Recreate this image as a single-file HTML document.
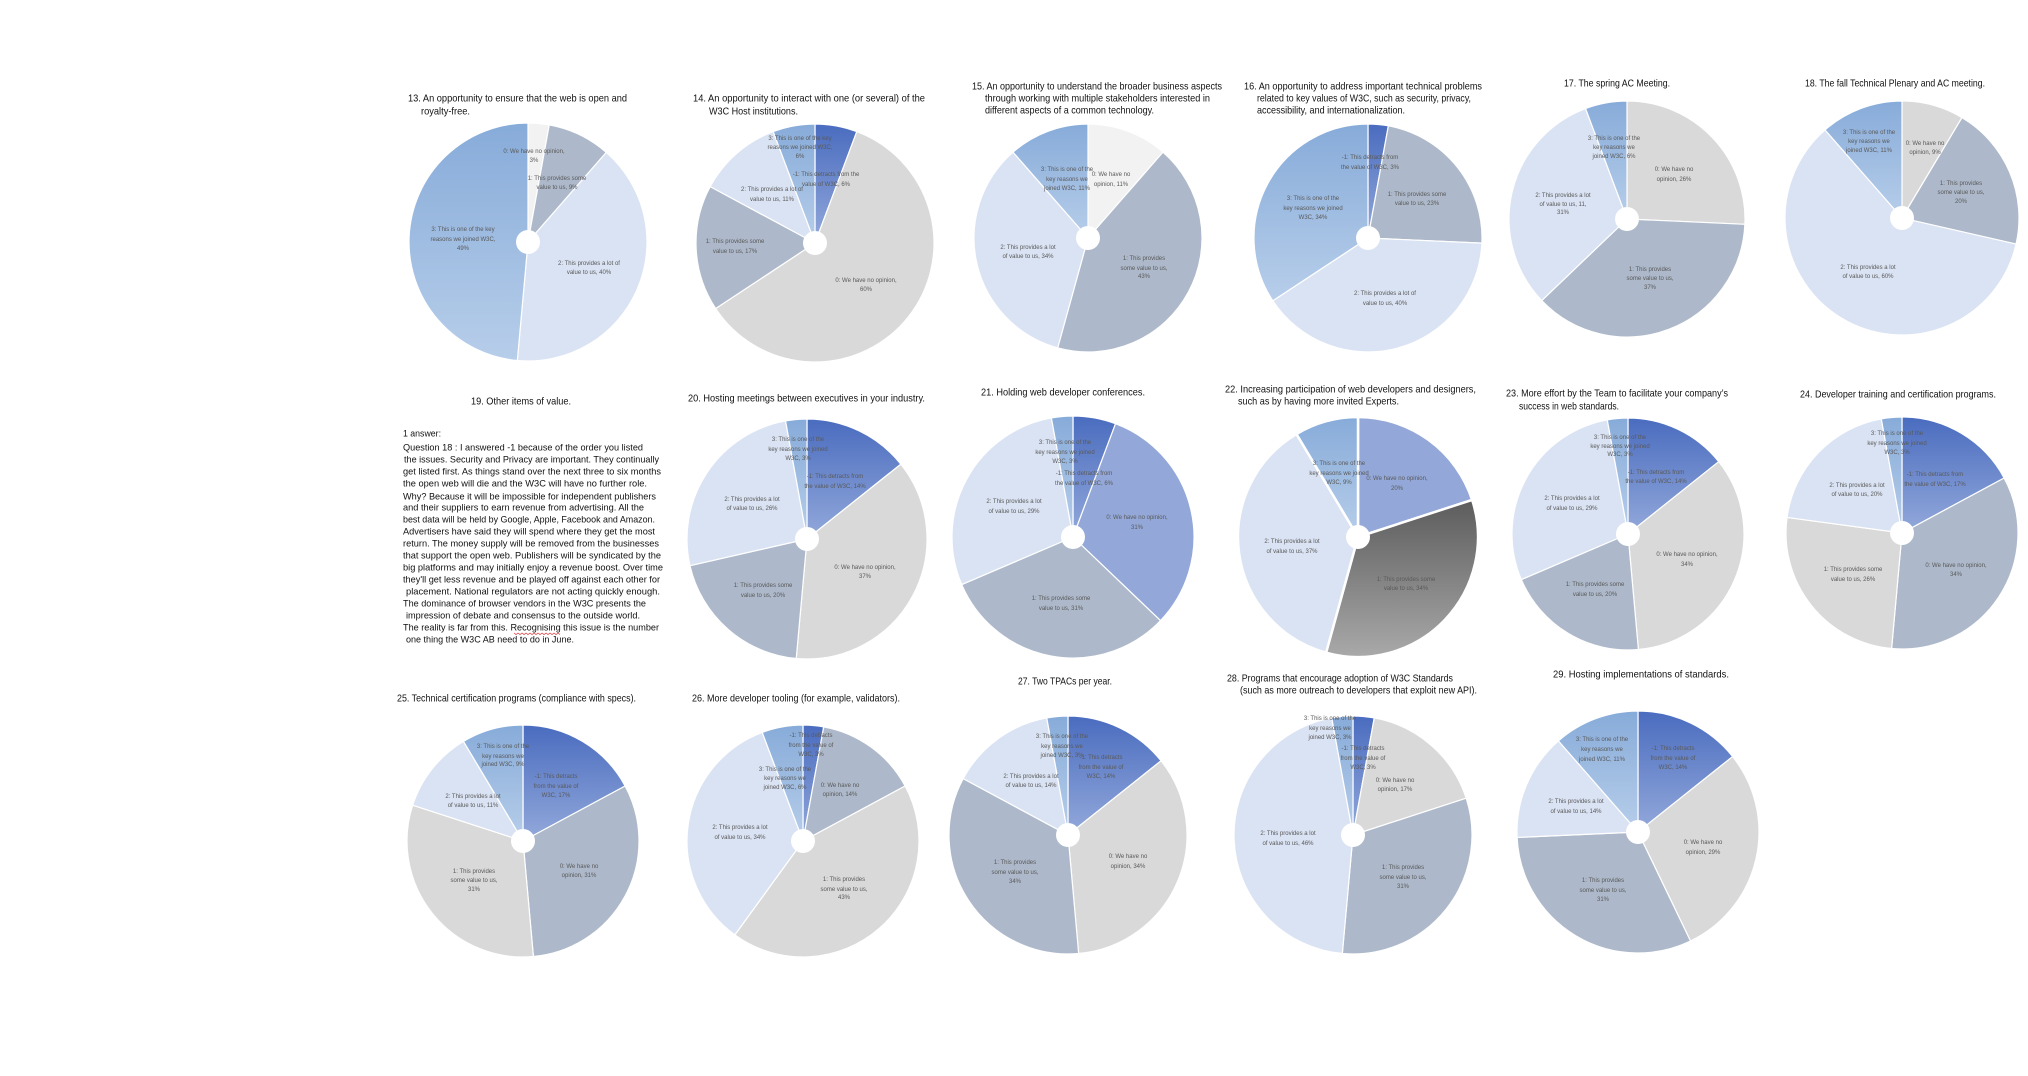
<!DOCTYPE html>
<html><head><meta charset="utf-8"><style>
html,body{margin:0;padding:0;background:#fff;}
svg{display:block;}
</style></head><body>
<svg width="2028" height="1076" viewBox="0 0 2028 1076" xmlns="http://www.w3.org/2000/svg">
<defs>
<linearGradient id="gN" x1="0" y1="0" x2="0" y2="1"><stop offset="0" stop-color="#4a6cbf"/><stop offset="1" stop-color="#93a9db"/></linearGradient>
<linearGradient id="gK" x1="0" y1="0" x2="0" y2="1"><stop offset="0" stop-color="#87abd9"/><stop offset="1" stop-color="#b7ceea"/></linearGradient>
<linearGradient id="gG" x1="0" y1="0" x2="0" y2="1"><stop offset="0" stop-color="#5c5c5c"/><stop offset="1" stop-color="#a9a9a9"/></linearGradient>
</defs>
<rect width="2028" height="1076" fill="#fff"/>

<g stroke="#fff" stroke-width="1.2" stroke-linejoin="round">
<!-- 13 -->
<path d="M528,242 L528,123 A119,119 0 0,1 549.25,124.91 Z" fill="#f2f2f2"/>
<path d="M528,242 L549.25,124.91 A119,119 0 0,1 606.29,152.38 Z" fill="#adb9ca"/>
<path d="M528,242 L606.29,152.38 A119,119 0 0,1 517.33,360.52 Z" fill="#dae3f3"/>
<path d="M528,242 L517.33,360.52 A119,119 0 0,1 528,123 Z" fill="url(#gK)"/>
<!-- 14 -->
<path d="M815,243 L815,124 A119,119 0 0,1 856.81,131.59 Z" fill="url(#gN)"/>
<path d="M815,243 L856.81,131.59 A119,119 0 1,1 715.69,308.56 Z" fill="#d9d9d9"/>
<path d="M815,243 L715.69,308.56 A119,119 0 0,1 710.21,186.61 Z" fill="#adb9ca"/>
<path d="M815,243 L710.21,186.61 A119,119 0 0,1 773.19,131.59 Z" fill="#dae3f3"/>
<path d="M815,243 L773.19,131.59 A119,119 0 0,1 815,124 Z" fill="url(#gK)"/>
<!-- 15 -->
<path d="M1088,238 L1088,124 A114,114 0 0,1 1163.01,152.15 Z" fill="#f2f2f2"/>
<path d="M1088,238 L1163.01,152.15 A114,114 0 0,1 1057.67,347.89 Z" fill="#adb9ca"/>
<path d="M1088,238 L1057.67,347.89 A114,114 0 0,1 1012.99,152.15 Z" fill="#dae3f3"/>
<path d="M1088,238 L1012.99,152.15 A114,114 0 0,1 1088,124 Z" fill="url(#gK)"/>
<!-- 16 -->
<path d="M1368,238 L1368,124 A114,114 0 0,1 1388.35,125.83 Z" fill="url(#gN)"/>
<path d="M1368,238 L1388.35,125.83 A114,114 0 0,1 1481.88,243.11 Z" fill="#adb9ca"/>
<path d="M1368,238 L1481.88,243.11 A114,114 0 0,1 1272.86,300.80 Z" fill="#dae3f3"/>
<path d="M1368,238 L1272.86,300.80 A114,114 0 0,1 1368,124 Z" fill="url(#gK)"/>
<!-- 17 -->
<path d="M1627,219 L1627,101 A118,118 0 0,1 1744.88,224.29 Z" fill="#d9d9d9"/>
<path d="M1627,219 L1744.88,224.29 A118,118 0 0,1 1541.71,300.55 Z" fill="#adb9ca"/>
<path d="M1627,219 L1541.71,300.55 A118,118 0 0,1 1585.54,108.52 Z" fill="#dae3f3"/>
<path d="M1627,219 L1585.54,108.52 A118,118 0 0,1 1627,101 Z" fill="url(#gK)"/>
<!-- 18 -->
<path d="M1902,218 L1902,101 A117,117 0 0,1 1962.01,117.56 Z" fill="#d9d9d9"/>
<path d="M1902,218 L1962.01,117.56 A117,117 0 0,1 2016.07,244.03 Z" fill="#adb9ca"/>
<path d="M1902,218 L2016.07,244.03 A117,117 0 1,1 1825.02,129.89 Z" fill="#dae3f3"/>
<path d="M1902,218 L1825.02,129.89 A117,117 0 0,1 1902,101 Z" fill="url(#gK)"/>
<!-- 20 -->
<path d="M807,539 L807,419 A120,120 0 0,1 900.82,464.18 Z" fill="url(#gN)"/>
<path d="M807,539 L900.82,464.18 A120,120 0 0,1 796.24,658.52 Z" fill="#d9d9d9"/>
<path d="M807,539 L796.24,658.52 A120,120 0 0,1 690.01,565.70 Z" fill="#adb9ca"/>
<path d="M807,539 L690.01,565.70 A120,120 0 0,1 785.57,420.93 Z" fill="#dae3f3"/>
<path d="M807,539 L785.57,420.93 A120,120 0 0,1 807,419 Z" fill="url(#gK)"/>
<!-- 21 -->
<path d="M1073,537 L1073,416 A121,121 0 0,1 1115.52,423.71 Z" fill="url(#gN)"/>
<path d="M1073,537 L1115.52,423.71 A121,121 0 0,1 1160.46,620.62 Z" fill="#93a8d9"/>
<path d="M1073,537 L1160.46,620.62 A121,121 0 0,1 961.74,584.56 Z" fill="#adb9ca"/>
<path d="M1073,537 L961.74,584.56 A121,121 0 0,1 1051.40,417.94 Z" fill="#dae3f3"/>
<path d="M1073,537 L1051.40,417.94 A121,121 0 0,1 1073,416 Z" fill="url(#gK)"/>
<!-- 23 -->
<path d="M1628,534 L1628,418 A116,116 0 0,1 1718.69,461.68 Z" fill="url(#gN)"/>
<path d="M1628,534 L1718.69,461.68 A116,116 0 0,1 1638.40,649.53 Z" fill="#d9d9d9"/>
<path d="M1628,534 L1638.40,649.53 A116,116 0 0,1 1521.34,579.59 Z" fill="#adb9ca"/>
<path d="M1628,534 L1521.34,579.59 A116,116 0 0,1 1607.29,419.86 Z" fill="#dae3f3"/>
<path d="M1628,534 L1607.29,419.86 A116,116 0 0,1 1628,418 Z" fill="url(#gK)"/>
<!-- 24 -->
<path d="M1902,533 L1902,417 A116,116 0 0,1 2004.15,478.03 Z" fill="url(#gN)"/>
<path d="M1902,533 L2004.15,478.03 A116,116 0 0,1 1891.60,648.53 Z" fill="#adb9ca"/>
<path d="M1902,533 L1891.60,648.53 A116,116 0 0,1 1787.05,517.43 Z" fill="#d9d9d9"/>
<path d="M1902,533 L1787.05,517.43 A116,116 0 0,1 1881.29,418.86 Z" fill="#dae3f3"/>
<path d="M1902,533 L1881.29,418.86 A116,116 0 0,1 1902,417 Z" fill="url(#gK)"/>
<!-- 25 -->
<path d="M523,841 L523,725 A116,116 0 0,1 625.15,786.03 Z" fill="url(#gN)"/>
<path d="M523,841 L625.15,786.03 A116,116 0 0,1 533.40,956.53 Z" fill="#adb9ca"/>
<path d="M523,841 L533.40,956.53 A116,116 0 0,1 412.68,805.15 Z" fill="#d9d9d9"/>
<path d="M523,841 L412.68,805.15 A116,116 0 0,1 463.50,741.42 Z" fill="#dae3f3"/>
<path d="M523,841 L463.50,741.42 A116,116 0 0,1 523,725 Z" fill="url(#gK)"/>
<!-- 26 -->
<path d="M803,841 L803,725 A116,116 0 0,1 823.71,726.86 Z" fill="url(#gN)"/>
<path d="M803,841 L823.71,726.86 A116,116 0 0,1 905.15,786.03 Z" fill="#adb9ca"/>
<path d="M803,841 L905.15,786.03 A116,116 0 0,1 734.82,934.85 Z" fill="#d9d9d9"/>
<path d="M803,841 L734.82,934.85 A116,116 0 0,1 762.24,732.40 Z" fill="#dae3f3"/>
<path d="M803,841 L762.24,732.40 A116,116 0 0,1 803,725 Z" fill="url(#gK)"/>
<!-- 27 -->
<path d="M1068,835 L1068,716 A119,119 0 0,1 1161.04,760.80 Z" fill="url(#gN)"/>
<path d="M1068,835 L1161.04,760.80 A119,119 0 0,1 1078.67,953.52 Z" fill="#d9d9d9"/>
<path d="M1068,835 L1078.67,953.52 A119,119 0 0,1 963.21,778.61 Z" fill="#adb9ca"/>
<path d="M1068,835 L963.21,778.61 A119,119 0 0,1 1046.75,717.91 Z" fill="#dae3f3"/>
<path d="M1068,835 L1046.75,717.91 A119,119 0 0,1 1068,716 Z" fill="url(#gK)"/>
<!-- 28 -->
<path d="M1353,835 L1353,716 A119,119 0 0,1 1374.25,717.91 Z" fill="url(#gN)"/>
<path d="M1353,835 L1374.25,717.91 A119,119 0 0,1 1466.18,798.23 Z" fill="#d9d9d9"/>
<path d="M1353,835 L1466.18,798.23 A119,119 0 0,1 1342.33,953.52 Z" fill="#adb9ca"/>
<path d="M1353,835 L1342.33,953.52 A119,119 0 0,1 1331.75,717.91 Z" fill="#dae3f3"/>
<path d="M1353,835 L1331.75,717.91 A119,119 0 0,1 1353,716 Z" fill="url(#gK)"/>
<!-- 29 -->
<path d="M1638,832 L1638,711 A121,121 0 0,1 1732.60,756.56 Z" fill="url(#gN)"/>
<path d="M1638,832 L1732.60,756.56 A121,121 0 0,1 1690.50,941.02 Z" fill="#d9d9d9"/>
<path d="M1638,832 L1690.50,941.02 A121,121 0 0,1 1517.12,837.43 Z" fill="#adb9ca"/>
<path d="M1638,832 L1517.12,837.43 A121,121 0 0,1 1558.39,740.88 Z" fill="#dae3f3"/>
<path d="M1638,832 L1558.39,740.88 A121,121 0 0,1 1638,711 Z" fill="url(#gK)"/>
</g>
<!-- 22 thicker borders -->
<g stroke="#fff" stroke-width="2.5" stroke-linejoin="round">
<path d="M1358,537 L1358,417 A120,120 0 0,1 1472.13,499.92 Z" fill="#93a8d9"/>
<path d="M1358,537 L1472.13,499.92 A120,120 0 0,1 1326.08,652.68 Z" fill="url(#gG)"/>
<path d="M1358,537 L1326.08,652.68 A120,120 0 0,1 1296.45,433.99 Z" fill="#dae3f3"/>
<path d="M1358,537 L1296.45,433.99 A120,120 0 0,1 1358,417 Z" fill="url(#gK)"/>
</g>

<!-- holes -->
<g fill="#fff">
<circle cx="528" cy="242" r="12"/><circle cx="815" cy="243" r="12"/><circle cx="1088" cy="238" r="12"/>
<circle cx="1368" cy="238" r="12"/><circle cx="1627" cy="219" r="12"/><circle cx="1902" cy="218" r="12"/>
<circle cx="807" cy="539" r="12"/><circle cx="1073" cy="537" r="12"/><circle cx="1358" cy="537" r="12"/>
<circle cx="1628" cy="534" r="12"/><circle cx="1902" cy="533" r="12"/>
<circle cx="523" cy="841" r="12"/><circle cx="803" cy="841" r="12"/><circle cx="1068" cy="835" r="12"/>
<circle cx="1353" cy="835" r="12"/><circle cx="1638" cy="832" r="12"/>
</g>

<!-- slice labels -->
<g font-family="'Liberation Sans', sans-serif" font-size="6" fill="#595959" text-anchor="middle">
<!-- 13 -->
<text x="534" y="153">0: We have no opinion,</text><text x="534" y="162">3%</text>
<text x="557" y="180">1: This provides some</text><text x="557" y="189">value to us, 9%</text>
<text x="589" y="265">2: This provides a lot of</text><text x="589" y="274">value to us, 40%</text>
<text x="463" y="231">3: This is one of the key</text><text x="463" y="241">reasons we joined W3C,</text><text x="463" y="250">49%</text>
<!-- 14 -->
<text x="800" y="140">3: This is one of the key</text><text x="800" y="149">reasons we joined W3C,</text><text x="800" y="158">6%</text>
<text x="826" y="176">-1: This detracts from the</text><text x="826" y="186">value of W3C, 6%</text>
<text x="772" y="191">2: This provides a lot of</text><text x="772" y="201">value to us, 11%</text>
<text x="735" y="243">1: This provides some</text><text x="735" y="253">value to us, 17%</text>
<text x="866" y="282">0: We have no opinion,</text><text x="866" y="291">60%</text>
<!-- 15 -->
<text x="1067" y="171">3: This is one of the</text><text x="1067" y="181">key reasons we</text><text x="1067" y="190">joined W3C, 11%</text>
<text x="1111" y="176">0: We have no</text><text x="1111" y="186">opinion, 11%</text>
<text x="1028" y="249">2: This provides a lot</text><text x="1028" y="258">of value to us, 34%</text>
<text x="1144" y="260">1: This provides</text><text x="1144" y="270">some value to us,</text><text x="1144" y="278">43%</text>
<!-- 16 -->
<text x="1370" y="159">-1: This detracts from</text><text x="1370" y="169">the value of W3C, 3%</text>
<text x="1417" y="196">1: This provides some</text><text x="1417" y="205">value to us, 23%</text>
<text x="1313" y="200">3: This is one of the</text><text x="1313" y="210">key reasons we joined</text><text x="1313" y="219">W3C, 34%</text>
<text x="1385" y="295">2: This provides a lot of</text><text x="1385" y="305">value to us, 40%</text>
<!-- 17 -->
<text x="1614" y="140">3: This is one of the</text><text x="1614" y="149">key reasons we</text><text x="1614" y="158">joined W3C, 6%</text>
<text x="1674" y="171">0: We have no</text><text x="1674" y="181">opinion, 26%</text>
<text x="1563" y="197">2: This provides a lot</text><text x="1563" y="206">of value to us, 11,</text><text x="1563" y="214">31%</text>
<text x="1650" y="271">1: This provides</text><text x="1650" y="280">some value to us,</text><text x="1650" y="289">37%</text>
<!-- 18 -->
<text x="1869" y="134">3: This is one of the</text><text x="1869" y="143">key reasons we</text><text x="1869" y="152">joined W3C, 11%</text>
<text x="1925" y="145">0: We have no</text><text x="1925" y="154">opinion, 9%</text>
<text x="1961" y="185">1: This provides</text><text x="1961" y="194">some value to us,</text><text x="1961" y="203">20%</text>
<text x="1868" y="269">2: This provides a lot</text><text x="1868" y="278">of value to us, 60%</text>
<!-- 20 -->
<text x="798" y="441">3: This is one of the</text><text x="798" y="451">key reasons we joined</text><text x="798" y="460">W3C, 3%</text>
<text x="835" y="478">-1: This detracts from</text><text x="835" y="488">the value of W3C, 14%</text>
<text x="752" y="501">2: This provides a lot</text><text x="752" y="510">of value to us, 26%</text>
<text x="865" y="569">0: We have no opinion,</text><text x="865" y="578">37%</text>
<text x="763" y="587">1: This provides some</text><text x="763" y="597">value to us, 20%</text>
<!-- 21 -->
<text x="1065" y="444">3: This is one of the</text><text x="1065" y="454">key reasons we joined</text><text x="1065" y="463">W3C, 3%</text>
<text x="1084" y="475">-1: This detracts from</text><text x="1084" y="485">the value of W3C, 6%</text>
<text x="1014" y="503">2: This provides a lot</text><text x="1014" y="513">of value to us, 29%</text>
<text x="1137" y="519">0: We have no opinion,</text><text x="1137" y="529">31%</text>
<text x="1061" y="600">1: This provides some</text><text x="1061" y="610">value to us, 31%</text>
<!-- 22 -->
<text x="1339" y="465">3: This is one of the</text><text x="1339" y="475">key reasons we joined</text><text x="1339" y="484">W3C, 9%</text>
<text x="1397" y="480">0: We have no opinion,</text><text x="1397" y="490">20%</text>
<text x="1292" y="543">2: This provides a lot</text><text x="1292" y="553">of value to us, 37%</text>
<text x="1406" y="581">1: This provides some</text><text x="1406" y="590">value to us, 34%</text>
<!-- 23 -->
<text x="1620" y="439">3: This is one of the</text><text x="1620" y="448">key reasons we joined</text><text x="1620" y="456">W3C, 3%</text>
<text x="1656" y="474">-1: This detracts from</text><text x="1656" y="483">the value of W3C, 14%</text>
<text x="1572" y="500">2: This provides a lot</text><text x="1572" y="510">of value to us, 29%</text>
<text x="1687" y="556">0: We have no opinion,</text><text x="1687" y="566">34%</text>
<text x="1595" y="586">1: This provides some</text><text x="1595" y="596">value to us, 20%</text>
<!-- 24 -->
<text x="1897" y="435">3: This is one of the</text><text x="1897" y="445">key reasons we joined</text><text x="1897" y="454">W3C, 3%</text>
<text x="1935" y="476">-1: This detracts from</text><text x="1935" y="486">the value of W3C, 17%</text>
<text x="1857" y="487">2: This provides a lot</text><text x="1857" y="496">of value to us, 20%</text>
<text x="1956" y="567">0: We have no opinion,</text><text x="1956" y="576">34%</text>
<text x="1853" y="571">1: This provides some</text><text x="1853" y="581">value to us, 26%</text>
<!-- 25 -->
<text x="503" y="748">3: This is one of the</text><text x="503" y="758">key reasons we</text><text x="503" y="766">joined W3C, 9%</text>
<text x="556" y="778">-1: This detracts</text><text x="556" y="788">from the value of</text><text x="556" y="797">W3C, 17%</text>
<text x="473" y="798">2: This provides a lot</text><text x="473" y="807">of value to us, 11%</text>
<text x="579" y="868">0: We have no</text><text x="579" y="877">opinion, 31%</text>
<text x="474" y="873">1: This provides</text><text x="474" y="882">some value to us,</text><text x="474" y="891">31%</text>
<!-- 26 -->
<text x="811" y="737">-1: This detracts</text><text x="811" y="747">from the value of</text><text x="811" y="756">W3C, 3%</text>
<text x="785" y="771">3: This is one of the</text><text x="785" y="780">key reasons we</text><text x="785" y="789">joined W3C, 6%</text>
<text x="840" y="787">0: We have no</text><text x="840" y="796">opinion, 14%</text>
<text x="740" y="829">2: This provides a lot</text><text x="740" y="839">of value to us, 34%</text>
<text x="844" y="881">1: This provides</text><text x="844" y="891">some value to us,</text><text x="844" y="899">43%</text>
<!-- 27 -->
<text x="1062" y="738">3: This is one of the</text><text x="1062" y="748">key reasons we</text><text x="1062" y="757">joined W3C, 3%</text>
<text x="1101" y="759">-1: This detracts</text><text x="1101" y="769">from the value of</text><text x="1101" y="778">W3C, 14%</text>
<text x="1031" y="778">2: This provides a lot</text><text x="1031" y="787">of value to us, 14%</text>
<text x="1128" y="858">0: We have no</text><text x="1128" y="868">opinion, 34%</text>
<text x="1015" y="864">1: This provides</text><text x="1015" y="874">some value to us,</text><text x="1015" y="883">34%</text>
<!-- 28 -->
<text x="1330" y="720">3: This is one of the</text><text x="1330" y="730">key reasons we</text><text x="1330" y="739">joined W3C, 3%</text>
<text x="1363" y="750">-1: This detracts</text><text x="1363" y="760">from the value of</text><text x="1363" y="769">W3C, 3%</text>
<text x="1395" y="782">0: We have no</text><text x="1395" y="791">opinion, 17%</text>
<text x="1288" y="835">2: This provides a lot</text><text x="1288" y="845">of value to us, 46%</text>
<text x="1403" y="869">1: This provides</text><text x="1403" y="879">some value to us,</text><text x="1403" y="888">31%</text>
<!-- 29 -->
<text x="1602" y="741">3: This is one of the</text><text x="1602" y="751">key reasons we</text><text x="1602" y="761">joined W3C, 11%</text>
<text x="1673" y="750">-1: This detracts</text><text x="1673" y="760">from the value of</text><text x="1673" y="769">W3C, 14%</text>
<text x="1576" y="803">2: This provides a lot</text><text x="1576" y="813">of value to us, 14%</text>
<text x="1703" y="844">0: We have no</text><text x="1703" y="854">opinion, 29%</text>
<text x="1603" y="882">1: This provides</text><text x="1603" y="892">some value to us,</text><text x="1603" y="901">31%</text>
</g>

<!-- titles -->
<g font-family="'Liberation Sans', sans-serif" font-size="10.5" fill="#111" lengthAdjust="spacingAndGlyphs">
<text x="408" y="101.7" textLength="219" lengthAdjust="spacingAndGlyphs">13. An opportunity to ensure that the web is open and</text>
<text x="421" y="114.5" textLength="49" lengthAdjust="spacingAndGlyphs">royalty-free.</text>
<text x="693" y="101.7" textLength="232" lengthAdjust="spacingAndGlyphs">14. An opportunity to interact with one (or several) of the</text>
<text x="709" y="114.5" textLength="89" lengthAdjust="spacingAndGlyphs">W3C Host institutions.</text>
<text x="972" y="89.7" textLength="250" lengthAdjust="spacingAndGlyphs">15. An opportunity to understand the broader business aspects</text>
<text x="985" y="101.7" textLength="225" lengthAdjust="spacingAndGlyphs">through working with multiple stakeholders interested in</text>
<text x="985" y="113.7" textLength="169" lengthAdjust="spacingAndGlyphs">different aspects of a common technology.</text>
<text x="1244" y="89.7" textLength="238" lengthAdjust="spacingAndGlyphs">16. An opportunity to address important technical problems</text>
<text x="1257" y="101.7" textLength="214" lengthAdjust="spacingAndGlyphs">related to key values of W3C, such as security, privacy,</text>
<text x="1257" y="113.7" textLength="148" lengthAdjust="spacingAndGlyphs">accessibility, and internationalization.</text>
<text x="1564" y="86.7" textLength="106" lengthAdjust="spacingAndGlyphs">17. The spring AC Meeting.</text>
<text x="1805" y="86.7" textLength="180" lengthAdjust="spacingAndGlyphs">18. The fall Technical Plenary and AC meeting.</text>
<text x="471" y="404.7" textLength="100" lengthAdjust="spacingAndGlyphs">19. Other items of value.</text>
<text x="688" y="401.7" textLength="237" lengthAdjust="spacingAndGlyphs">20. Hosting meetings between executives in your industry.</text>
<text x="981" y="395.7" textLength="164" lengthAdjust="spacingAndGlyphs">21. Holding web developer conferences.</text>
<text x="1225" y="392.7" textLength="251" lengthAdjust="spacingAndGlyphs">22. Increasing participation of web developers and designers,</text>
<text x="1238" y="404.7" textLength="161" lengthAdjust="spacingAndGlyphs">such as by having more invited Experts.</text>
<text x="1506" y="396.7" textLength="222" lengthAdjust="spacingAndGlyphs">23. More effort by the Team to facilitate your company’s</text>
<text x="1519" y="409.7" textLength="100" lengthAdjust="spacingAndGlyphs">success in web standards.</text>
<text x="1800" y="397.7" textLength="196" lengthAdjust="spacingAndGlyphs">24. Developer training and certification programs.</text>
<text x="397" y="701.7" textLength="239" lengthAdjust="spacingAndGlyphs">25. Technical certification programs (compliance with specs).</text>
<text x="692" y="701.7" textLength="208" lengthAdjust="spacingAndGlyphs">26. More developer tooling (for example, validators).</text>
<text x="1018" y="684.7" textLength="94" lengthAdjust="spacingAndGlyphs">27. Two TPACs per year.</text>
<text x="1227" y="681.7" textLength="226" lengthAdjust="spacingAndGlyphs">28. Programs that encourage adoption of W3C Standards</text>
<text x="1240" y="693.7" textLength="237" lengthAdjust="spacingAndGlyphs">(such as more outreach to developers that exploit new API).</text>
<text x="1553" y="677.7" textLength="176" lengthAdjust="spacingAndGlyphs">29. Hosting implementations of standards.</text>
</g>

<!-- answer text for 19 -->
<g font-family="'Liberation Sans', sans-serif" font-size="9.5" fill="#111">
<text x="403" y="436.3" textLength="38" lengthAdjust="spacingAndGlyphs">1 answer:</text>
<text x="403" y="450.3" textLength="240" lengthAdjust="spacingAndGlyphs">Question 18 : I answered -1 because of the order you listed</text>
<text x="404" y="462.3" textLength="255" lengthAdjust="spacingAndGlyphs">the issues. Security and Privacy are important. They continually</text>
<text x="403" y="474.3" textLength="258" lengthAdjust="spacingAndGlyphs">get listed first. As things stand over the next three to six months</text>
<text x="403" y="486.3" textLength="244" lengthAdjust="spacingAndGlyphs">the open web will die and the W3C will have no further role.</text>
<text x="403" y="499.3" textLength="253" lengthAdjust="spacingAndGlyphs">Why? Because it will be impossible for independent publishers</text>
<text x="403" y="510.3" textLength="241" lengthAdjust="spacingAndGlyphs">and their suppliers to earn revenue from advertising. All the</text>
<text x="403" y="522.3" textLength="252" lengthAdjust="spacingAndGlyphs">best data will be held by Google, Apple, Facebook and Amazon.</text>
<text x="403" y="534.3" textLength="252" lengthAdjust="spacingAndGlyphs">Advertisers have said they will spend where they get the most</text>
<text x="403" y="546.3" textLength="256" lengthAdjust="spacingAndGlyphs">return. The money supply will be removed from the businesses</text>
<text x="403" y="558.3" textLength="258" lengthAdjust="spacingAndGlyphs">that support the open web. Publishers will be syndicated by the</text>
<text x="403" y="570.3" textLength="260" lengthAdjust="spacingAndGlyphs">big platforms and may initially enjoy a revenue boost. Over time</text>
<text x="403" y="582.3" textLength="257" lengthAdjust="spacingAndGlyphs">they'll get less revenue and be played off against each other for</text>
<text x="406" y="594.3" textLength="254" lengthAdjust="spacingAndGlyphs">placement. National regulators are not acting quickly enough.</text>
<text x="403" y="606.3" textLength="243" lengthAdjust="spacingAndGlyphs">The dominance of browser vendors in the W3C presents the</text>
<text x="406" y="618.3" textLength="234" lengthAdjust="spacingAndGlyphs">impression of debate and consensus to the outside world.</text>
<text x="403" y="630.3" textLength="256" lengthAdjust="spacingAndGlyphs">The reality is far from this. Recognising this issue is the number</text>
<text x="406" y="642.3" textLength="168" lengthAdjust="spacingAndGlyphs">one thing the W3C AB need to do in June.</text>
</g>
<polyline points="514,633 516,634.5 518,633 520,634.5 522,633 524,634.5 526,633 528,634.5 530,633 532,634.5 534,633 536,634.5 538,633 540,634.5 542,633 544,634.5 546,633 548,634.5 550,633 552,634.5 554,633 556,634.5 558,633 560,634.5" fill="none" stroke="#e03030" stroke-width="0.7"/>
</svg>
</body></html>
